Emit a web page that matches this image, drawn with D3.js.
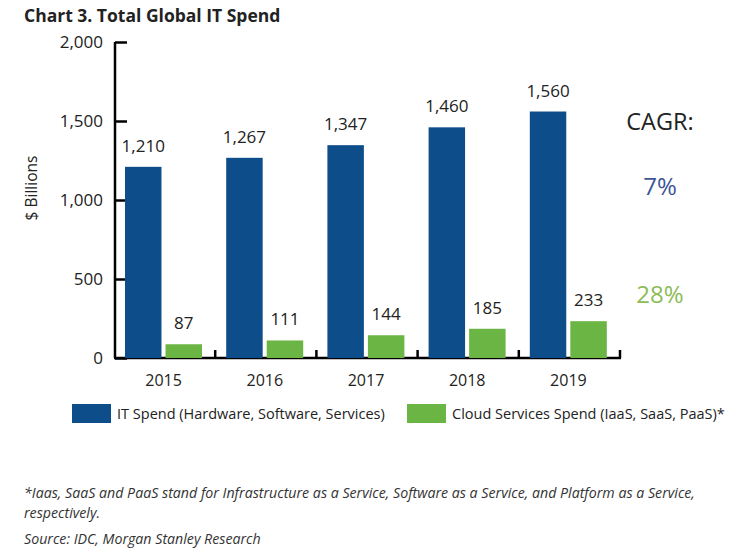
<!DOCTYPE html>
<html>
<head>
<meta charset="utf-8">
<script src="https://cdn.jsdelivr.net/npm/d3@7"></script>
<style>
  body { margin: 0; background: #fff; }
  svg { font-family: "Open Sans", sans-serif; }
</style>
</head>
<body>
<div id="chart"></div>
<script>
var years = ["2015", "2016", "2017", "2018", "2019"];
var series = ["IT Spend (Hardware, Software, Services)", "Cloud Services Spend (IaaS, SaaS, PaaS)*"];
var itSpend = [1210, 1267, 1347, 1460, 1560];
var cloudSpend = [87, 111, 144, 185, 233];
var yTicks = [0, 500, 1000, 1500, 2000];
var cagr = ["7%", "28%"];

var width = 747, height = 556;
var colors = ["#0c4d8a", "#6ab544"];
var cagrColors = ["#3d5596", "#8cbc55"];

var svg = d3.select("#chart").append("svg")
    .attr("width", width)
    .attr("height", height);

// title
svg.append("text")
    .attr("x", 24)
    .attr("y", 22)
    .attr("font-size", "17.5px")
    .attr("font-weight", "bold")
    .style("fill", "#222")
    .text("Chart 3. Total Global IT Spend");

var x = d3.scaleBand()
    .domain(years)
    .range([114, 620]);

var xs = d3.scaleBand()
    .domain([0, 1])
    .range([11, 88])
    .paddingInner(0.1);

var y = d3.scaleLinear()
    .domain([0, 2000])
    .range([358, 42]);

// y axis
var yAxis = svg.append("g")
    .attr("transform", "translate(115,0)")
    .call(d3.axisRight(y).tickValues(yTicks).tickSize(12).tickFormat(""));
yAxis.select(".domain").attr("stroke-width", 2.5).attr("d", "M0," + y(2000) + "V" + y(0));
yAxis.selectAll(".tick line").attr("stroke-width", 2.5);

svg.selectAll(".ylab")
    .data(yTicks)
    .enter().append("text")
    .attr("class", "ylab")
    .attr("x", 103)
    .attr("y", function (d) { return y(d) + 6; })
    .attr("text-anchor", "end")
    .attr("font-size", "17px")
    .style("fill", "#222")
    .text(function (d) { return d3.format(",")(d); });

svg.append("text")
    .attr("transform", "translate(37,188) rotate(-90)")
    .attr("text-anchor", "middle")
    .attr("font-size", "15.5px")
    .style("fill", "#222")
    .text("$ Billions");

// x axis line with upward ticks at band edges
var xg = svg.append("g");
xg.append("line")
    .attr("x1", 114).attr("x2", 621)
    .attr("y1", y(0)).attr("y2", y(0))
    .attr("stroke", "#000").attr("stroke-width", 2.5);
xg.selectAll(".xtick")
    .data(years.slice(1).concat(["end"]))
    .enter().append("line")
    .attr("x1", function (d) { return d === "end" ? x.range()[1] : x(d); })
    .attr("x2", function (d) { return d === "end" ? x.range()[1] : x(d); })
    .attr("y1", y(0)).attr("y2", y(0) - 8)
    .attr("stroke", "#000").attr("stroke-width", 2.5);

xg.selectAll(".xlab")
    .data(years)
    .enter().append("text")
    .attr("x", function (d) { return x(d) + x.bandwidth() / 2 - 1; })
    .attr("y", 386)
    .attr("text-anchor", "middle")
    .attr("font-size", "16px")
    .style("fill", "#222")
    .text(function (d) { return d; });

// bars
var data = [itSpend, cloudSpend];
data.forEach(function (vals, si) {
    var g = svg.append("g");
    g.selectAll("rect")
        .data(vals)
        .enter().append("rect")
        .attr("x", function (d, i) { return x(years[i]) + xs(si); })
        .attr("y", function (d) { return y(d); })
        .attr("width", xs.bandwidth())
        .attr("height", function (d) { return y(0) - y(d); })
        .style("fill", colors[si]);
    g.selectAll("text")
        .data(vals)
        .enter().append("text")
        .attr("x", function (d, i) { return x(years[i]) + xs(si) + xs.bandwidth() / 2; })
        .attr("y", function (d) { return y(d) - 15; })
        .attr("text-anchor", "middle")
        .attr("font-size", "17px")
        .style("fill", "#222")
        .text(function (d) { return d3.format(",")(d); });
});

// CAGR
svg.append("text")
    .attr("x", 660).attr("y", 130)
    .attr("text-anchor", "middle")
    .attr("font-size", "23.5px")
    .style("fill", "#222")
    .text("CAGR:");
svg.selectAll(".cagr")
    .data(cagr)
    .enter().append("text")
    .attr("x", 660)
    .attr("y", function (d, i) { return i === 0 ? 195 : 303; })
    .attr("text-anchor", "middle")
    .attr("font-size", "24px")
    .style("fill", function (d, i) { return cagrColors[i]; })
    .text(function (d) { return d; });

// legend
var legX = [72, 407];
var leg = svg.selectAll(".leg")
    .data(series)
    .enter().append("g")
    .attr("transform", function (d, i) { return "translate(" + legX[i] + ",404)"; });
leg.append("rect")
    .attr("width", 39).attr("height", 19)
    .style("fill", function (d, i) { return colors[i]; });
leg.append("text")
    .attr("x", 45).attr("y", 15)
    .attr("font-size", "14.5px")
    .style("fill", "#222")
    .text(function (d) { return d; });

// footnote
var notes = [
    "*Iaas, SaaS and PaaS stand for Infrastructure as a Service, Software as a Service, and Platform as a Service,",
    "respectively.",
    "Source: IDC, Morgan Stanley Research"
];
var noteY = [498, 518, 544];
svg.selectAll(".note")
    .data(notes)
    .enter().append("text")
    .attr("x", 24)
    .attr("y", function (d, i) { return noteY[i]; })
    .attr("font-size", "14.2px")
    .attr("font-style", "italic")
    .style("fill", "#333")
    .text(function (d) { return d; });
</script>
</body>
</html>
